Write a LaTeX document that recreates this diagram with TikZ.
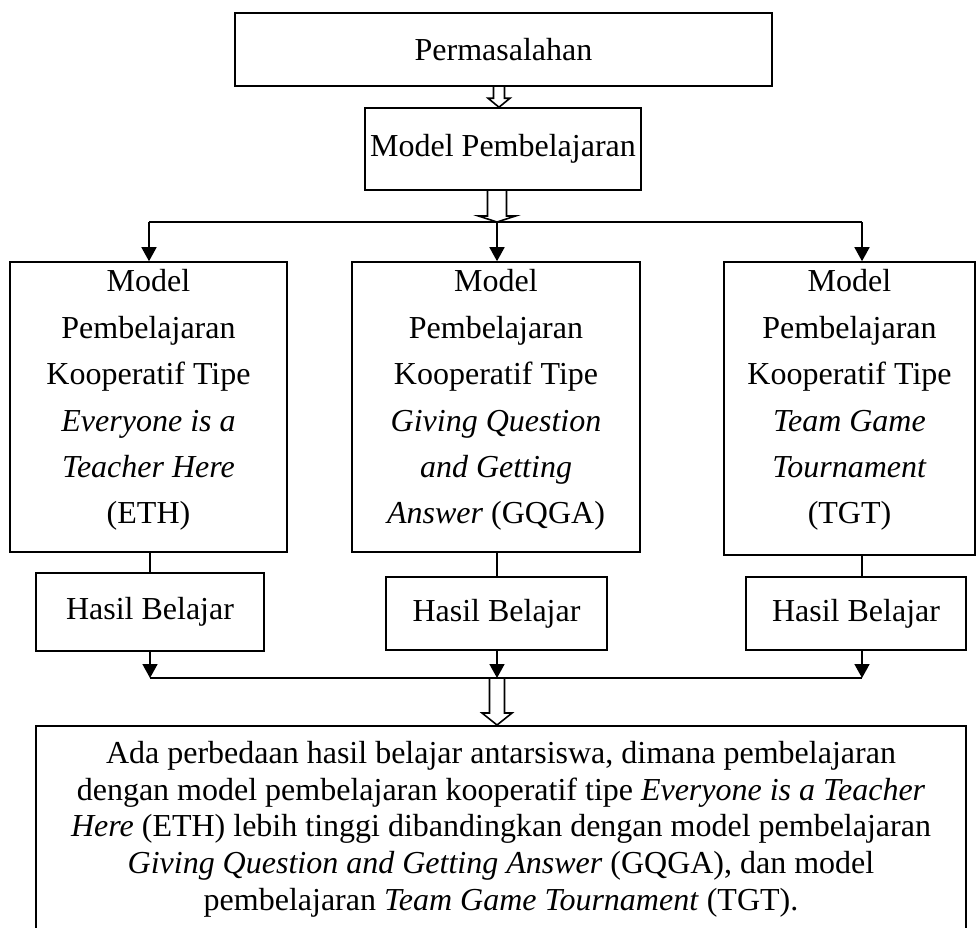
\documentclass[tikz,border=0pt]{standalone}
\usepackage{fontspec}
\setmainfont{Liberation Serif}
\usetikzlibrary{arrows.meta}
\usetikzlibrary{calc}
\usetikzlibrary{positioning}

\tikzset{
  box/.style={draw, line width=0.8pt, inner sep=0pt, align=center},
  boxtext/.style={anchor=north, align=center, inner sep=4pt, font=\fontsize{16}{23.2}\selectfont},
  link/.style={line width=0.8pt},
  arr/.style={line width=0.8pt, -{Triangle[length=7pt,width=7.5pt]}},
  hollow/.style n args={3}{line width=0.8pt, to path={
      let \p1=(\tikztostart), \p2=(\tikztotarget) in
      (\x1-#1,\y1) -- (\x1-#1,\y2+#3) -- (\x1-#2,\y2+#3) -- (\x1,\y2)
      -- (\x1+#2,\y2+#3) -- (\x1+#1,\y2+#3) -- (\x1+#1,\y1)}}
}

\begin{document}
\begin{tikzpicture}[x=0.5pt, y=-0.5pt, font=\fontsize{16}{18.3}\selectfont]
  \useasboundingbox (0,0) rectangle (978,927);
  \clip (0,0) rectangle (978,927);

  % top of the chart
  \node[box, minimum width=268.5pt, minimum height=36.5pt] (masalah) at (503.5,49.5) {Permasalahan};
  \node[box, minimum width=138pt, minimum height=41pt] (model) at (503,149) {Model Pembelajaran};

  % three cooperative models
  \node[box, minimum width=138.5pt, minimum height=145pt] (eth) at (148.5,407) {};
  \node[box, minimum width=144pt, minimum height=145pt] (gqga) at (496,407) {};
  \node[box, minimum width=125.5pt, minimum height=146.5pt] (tgt) at (849.5,408.5) {};
  \node[boxtext] (ethtext) at (eth.north) {Model\\Pembelajaran\\Kooperatif Tipe\\\textit{Everyone is a}\\\textit{Teacher Here}\\(ETH)};
  \node[boxtext] (gqgatext) at (gqga.north) {Model\\Pembelajaran\\Kooperatif Tipe\\\textit{Giving Question}\\\textit{and Getting}\\\textit{Answer} (GQGA)};
  \node[boxtext] (tgttext) at (tgt.north) {Model\\Pembelajaran\\Kooperatif Tipe\\\textit{Team Game}\\\textit{Tournament}\\(TGT)};

  % learning results
  \node[box, minimum width=114pt, minimum height=39pt] (hasilA) at (150,612) {Hasil Belajar};
  \node[box, minimum width=110.5pt, minimum height=36.5pt] (hasilB) at (496.5,613.5) {Hasil Belajar};
  \node[box, minimum width=110pt, minimum height=36.5pt] (hasilC) at (856,613.5) {Hasil Belajar};

  % conclusion, its lower edge runs off the page
  \node[box, minimum width=465pt, minimum height=110pt, anchor=north] (simpulan) at (501,725) {};
  \node[anchor=north, align=center, inner sep=8pt] (simpulantext) at (simpulan.north)
    {Ada perbedaan hasil belajar antarsiswa, dimana pembelajaran\\
     dengan model pembelajaran kooperatif tipe \textit{Everyone is a Teacher}\\
     \textit{Here} (ETH) lebih tinggi dibandingkan dengan model pembelajaran\\
     \textit{Giving Question and Getting Answer} (GQGA), dan model\\
     pembelajaran \textit{Team Game Tournament} (TGT).};

  % branch and join points
  \coordinate (splitL) at (149,222);
  \coordinate (splitM) at (497,222);
  \coordinate (splitR) at (862,222);
  \coordinate (joinL) at (150,678);
  \coordinate (joinM) at (497,678);
  \coordinate (joinR) at (862,678);

  % hollow arrows
  \draw[hollow={2.75pt}{5.5pt}{4.5pt}] (masalah.south -| 499,0) to (model.north -| 499,0);
  \draw[hollow={4.75pt}{9.25pt}{3pt}] (model.south -| splitM) to (splitM);
  \draw[hollow={3.75pt}{7.5pt}{6pt}] (joinM) to (joinM |- simpulan.north);

  % split into the three models
  \draw[link] (splitL) -- (splitR);
  \foreach \c/\b in {splitL/eth, splitM/gqga, splitR/tgt}
    \draw[arr] (\c) -- (\c |- \b.north);

  % models to results
  \draw[link] (joinL |- eth.south) -- (joinL |- hasilA.north);
  \draw[link] (joinM |- gqga.south) -- (joinM |- hasilB.north);
  \draw[link] (joinR |- tgt.south) -- (joinR |- hasilC.north);

  % results to the conclusion
  \foreach \c/\b in {joinL/hasilA, joinM/hasilB, joinR/hasilC}
    \draw[arr] (\c |- \b.south) -- (\c);
  \draw[link] (joinL) -- (joinR);
\end{tikzpicture}
\end{document}
